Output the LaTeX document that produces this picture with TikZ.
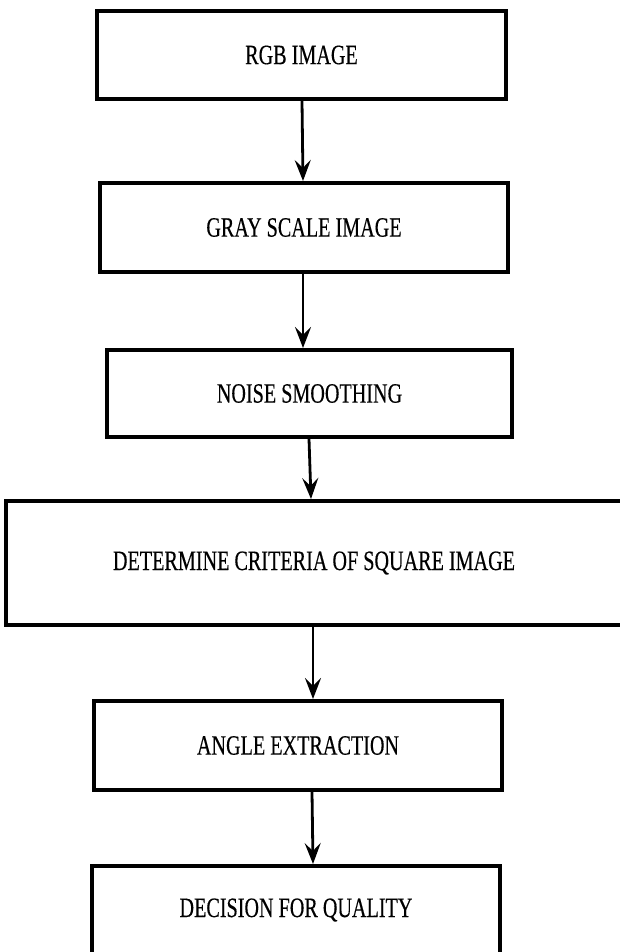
\documentclass[tikz,border=0pt]{standalone}
\usepackage{fontspec}
\setmainfont{Liberation Serif}
\newfontfamily\boxfont[FakeBold=0.4]{Liberation Serif}
\usetikzlibrary{arrows.meta}
\newcommand{\boxtext}[1]{\scalebox{0.72}[1]{\boxfont\fontsize{28}{30}\selectfont #1}}
\tikzset{
  stepbox/.style={draw, line width=4pt, inner sep=0pt, rectangle, text=black},
  flowarrow/.style={line width=2.8pt, -{Stealth[length=21pt, width=16pt, inset=8pt]}}
}
\begin{document}
\begin{tikzpicture}[x=1pt,y=-1pt]
\useasboundingbox (0,0) rectangle (620,952);
\fill[white] (0,0) rectangle (620,952);
\node[stepbox, minimum width=409pt, minimum height=88pt] (b1) at (301.5,55) {\boxtext{RGB IMAGE}};
\node[stepbox, minimum width=408pt, minimum height=89pt] (b2) at (304,227.5) {\boxtext{GRAY SCALE IMAGE}};
\node[stepbox, minimum width=405pt, minimum height=87pt] (b3) at (309.5,393.5) {\boxtext{NOISE SMOOTHING}};
\node[stepbox, minimum width=616pt, minimum height=124pt] (b4) at (314,563) {\boxtext{DETERMINE CRITERIA OF SQUARE IMAGE}};
\node[stepbox, minimum width=408pt, minimum height=89pt] (b5) at (298,745.5) {\boxtext{ANGLE EXTRACTION}};
\node[stepbox, minimum width=408pt, minimum height=88pt] (b6) at (296,910) {\boxtext{DECISION FOR QUALITY}};
\draw[flowarrow] ([xshift=0.5pt]b1.south) -- ([xshift=-1pt]b2.north);
\draw[flowarrow] ([xshift=-1pt]b2.south) -- ([xshift=-6.5pt]b3.north);
\draw[flowarrow] ([xshift=-0.5pt]b3.south) -- ([xshift=-3pt]b4.north);
\draw[flowarrow] ([xshift=-1pt]b4.south) -- ([xshift=15pt]b5.north);
\draw[flowarrow] ([xshift=14pt]b5.south) -- ([xshift=17pt]b6.north);
\end{tikzpicture}
\end{document}
